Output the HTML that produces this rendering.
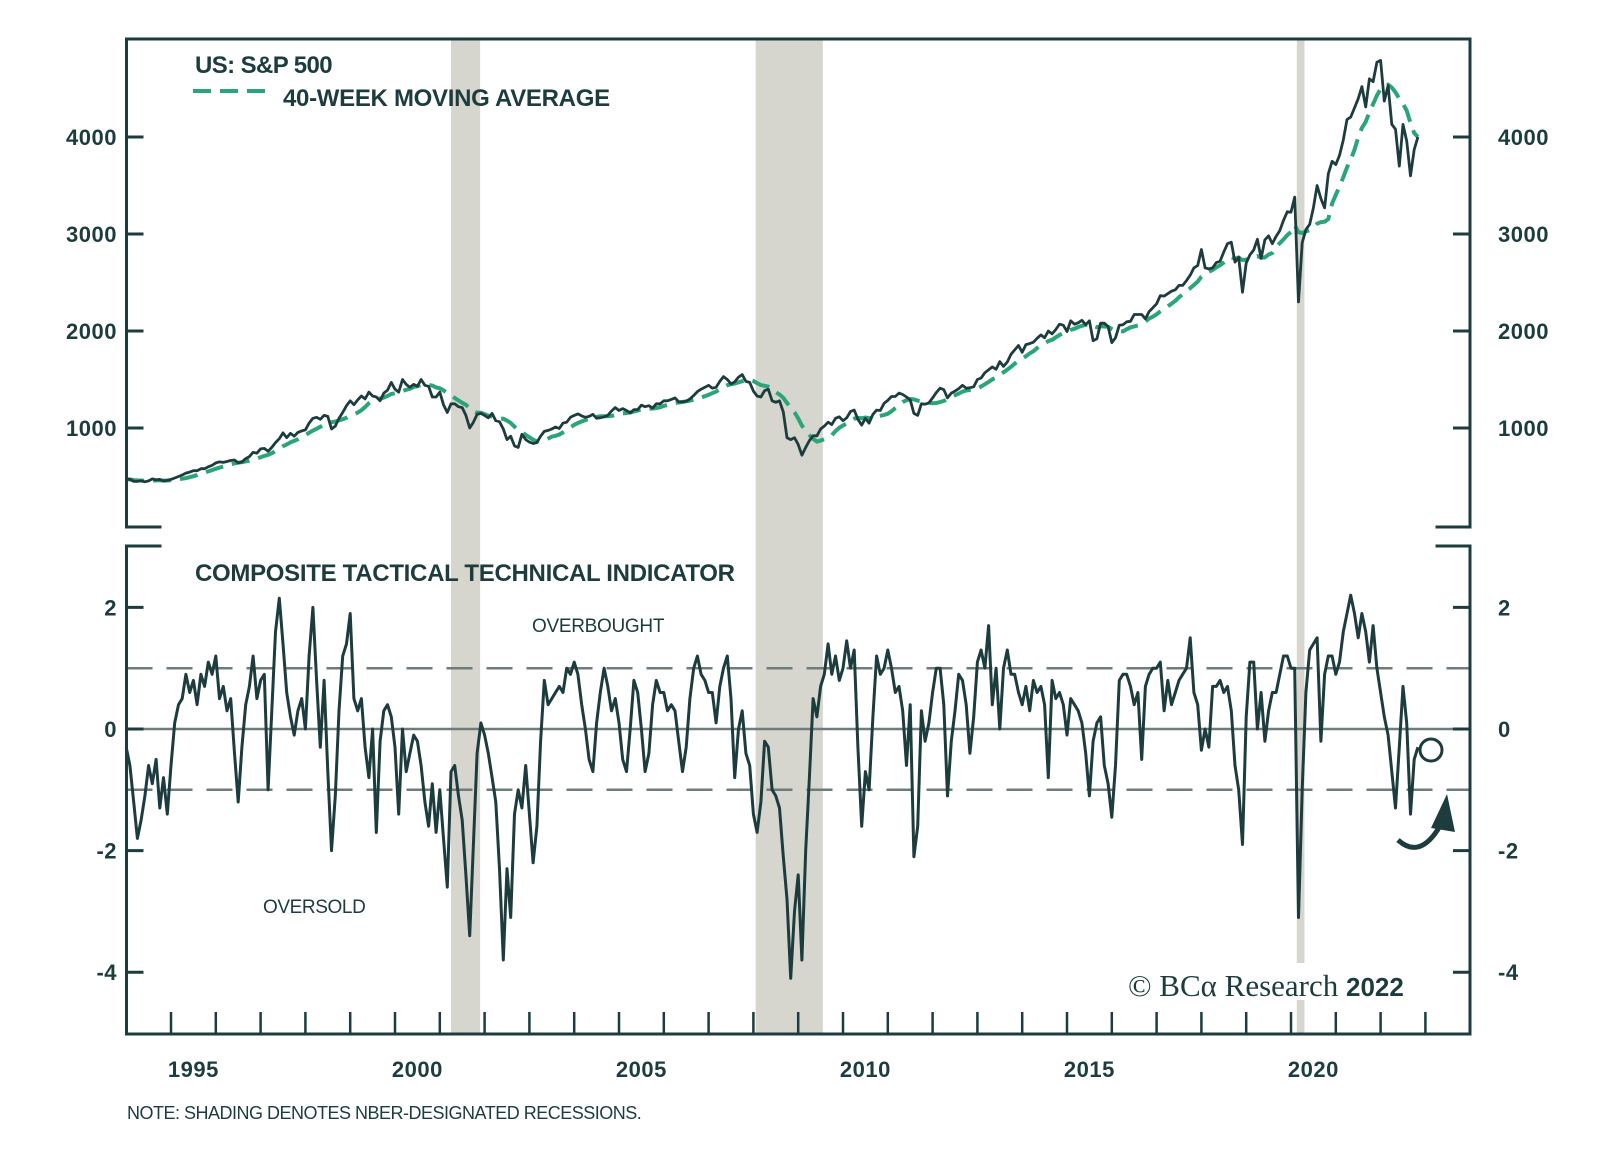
<!DOCTYPE html>
<html><head><meta charset="utf-8"><style>
body{margin:0;background:#fff;}
svg{display:block;}
.t{font-family:"Liberation Sans",sans-serif;fill:#1d3c3e;}
</style></head><body>
<svg id="chart" width="1600" height="1165" viewBox="0 0 1600 1165">
<g id="bands"></g>
<g id="grid"></g>
<g id="series"></g>
<g id="frame"></g>
<g id="labels"></g>
<text class="t" x="195" y="73" font-size="24" font-weight="bold" letter-spacing="-0.6">US: S&amp;P 500</text>
<line x1="193" y1="91" x2="272" y2="91" stroke="#2aa57a" stroke-width="4" stroke-dasharray="18 9"/>
<text class="t" x="283" y="106" font-size="24" font-weight="bold" letter-spacing="-0.3">40-WEEK MOVING AVERAGE</text>
<text class="t" x="195" y="581" font-size="24" font-weight="bold" letter-spacing="-0.3">COMPOSITE TACTICAL TECHNICAL INDICATOR</text>
<text class="t" x="532" y="632" font-size="19" letter-spacing="-0.3">OVERBOUGHT</text>
<text class="t" x="263" y="913" font-size="19" letter-spacing="-0.4">OVERSOLD</text>
<rect x="1120" y="963" width="305" height="37" fill="#fff"/>
<text x="1128" y="996" font-family="Liberation Serif,serif" font-size="31" fill="#1d3c3e">© BCα Research <tspan font-family="Liberation Sans,sans-serif" font-weight="bold" font-size="26">2022</tspan></text>
<text class="t" x="127" y="1119" font-size="18" letter-spacing="-0.5">NOTE: SHADING DENOTES NBER-DESIGNATED RECESSIONS.</text>
<circle cx="1431" cy="750" r="11" fill="none" stroke="#1d3c3e" stroke-width="3"/>
<path d="M1398 840 Q1420 860 1440 826" fill="none" stroke="#1d3c3e" stroke-width="5"/>
<polygon points="1447,794 1431,828 1455,832" fill="#1d3c3e"/>
</svg>
<script>
const startYear = 1994;
const spx = [
470,470,450,450,455,445,455,475,465,470,455,460,
470,485,500,515,535,545,560,560,580,580,600,615,
640,650,645,655,665,670,640,650,685,705,750,740,
785,790,760,800,850,890,950,900,945,915,955,970,
980,1050,1100,1110,1090,1130,1120,990,1020,1100,1160,1230,
1280,1240,1290,1330,1300,1370,1330,1320,1280,1360,1390,1470,
1400,1370,1500,1450,1420,1450,1430,1500,1440,1430,1320,1320,
1370,1240,1160,1250,1250,1220,1210,1130,1000,1060,1140,1150,
1130,1105,1150,1075,1065,990,880,915,815,800,935,880,
855,840,850,915,965,975,990,1010,995,1050,1060,1110,
1130,1145,1125,1110,1120,1140,1100,1105,1115,1130,1175,1210,
1180,1200,1180,1155,1190,1190,1235,1220,1230,1205,1250,1250,
1280,1280,1295,1310,1270,1270,1275,1300,1335,1375,1400,1420,
1440,1410,1420,1480,1530,1500,1455,1475,1525,1550,1480,1470,
1380,1330,1320,1385,1400,1280,1265,1280,1165,900,880,900,
830,720,800,870,920,920,990,1020,1060,1035,1100,1115,
1075,1105,1170,1185,1090,1030,1100,1050,1140,1185,1180,1255,
1285,1325,1325,1360,1345,1320,1290,1150,1130,1250,1245,1260,
1310,1365,1410,1395,1310,1360,1380,1405,1440,1410,1415,1425,
1500,1515,1570,1600,1630,1605,1685,1635,1680,1760,1805,1850,
1780,1860,1870,1885,1925,1960,1930,2000,1970,2015,2070,2060,
1995,2105,2070,2085,2110,2065,2105,1900,1920,2080,2080,2045,
1880,1930,2060,2065,2095,2100,2170,2170,2170,2125,2200,2240,
2280,2365,2360,2385,2410,2425,2470,2470,2520,2575,2650,2675,
2840,2650,2640,2650,2705,2720,2815,2900,2915,2710,2760,2400,
2700,2785,2835,2945,2750,2940,2980,2900,2975,3035,3140,3230,
3225,3380,2300,2910,3045,3100,3270,3500,3365,3270,3620,3750,
3715,3810,3970,4180,4205,4300,4395,4520,4310,4600,4570,4770,
4790,4370,4530,4130,4080,3700,4130,3960,3600,3870,4000
];
const indicator = [
-0.3,-0.6,-1.2,-1.8,-1.5,-1.1,-0.6,-0.9,-0.5,-1.3,-0.8,-1.4,
-0.6,0.1,0.4,0.5,0.9,0.6,0.8,0.4,0.9,0.7,1.1,0.9,
1.2,0.5,0.7,0.3,0.5,-0.4,-1.2,-0.3,0.4,0.7,1.2,0.5,
0.8,0.9,-1.0,0.3,1.6,2.15,1.4,0.6,0.2,-0.1,0.3,0.5,
0.0,1.2,2.0,0.8,-0.3,0.8,-0.7,-2.0,-1.1,0.3,1.2,1.4,
1.9,0.5,0.3,0.5,-0.3,-0.8,0.0,-1.7,-0.2,0.3,0.4,0.2,
-0.3,-1.4,0.0,-0.7,-0.4,-0.1,-0.2,-0.6,-1.2,-1.6,-0.9,-1.7,
-1.0,-1.8,-2.6,-0.7,-0.6,-1.1,-1.5,-2.4,-3.4,-1.9,-0.4,0.1,
-0.1,-0.4,-0.8,-1.2,-2.3,-3.8,-2.3,-3.1,-1.4,-1.0,-1.3,-0.6,
-1.4,-2.2,-1.6,-0.2,0.8,0.4,0.5,0.6,0.7,0.6,1.0,0.9,
1.1,0.9,0.4,0.0,-0.5,-0.7,0.1,0.6,1.0,0.7,0.3,0.5,
0.1,-0.5,-0.7,0.0,0.8,0.6,0.0,-0.7,-0.4,0.4,0.8,0.6,
0.6,0.3,0.4,0.3,-0.2,-0.7,-0.3,0.5,1.0,1.2,0.9,0.8,
0.6,0.6,0.1,0.7,1.0,1.2,0.5,-0.8,0.0,0.3,-0.4,-0.6,
-1.4,-1.7,-1.2,-0.2,-0.3,-1.0,-1.1,-1.3,-2.1,-2.8,-4.1,-3.0,
-2.4,-3.8,-2.0,-0.8,0.5,0.2,0.7,0.9,1.4,0.9,1.2,0.8,
1.0,1.45,1.0,1.3,-0.3,-1.6,-0.7,-1.0,0.2,1.2,0.9,1.0,
1.3,1.0,0.6,0.7,0.3,-0.6,0.4,-2.1,-1.6,0.3,-0.2,0.1,
0.6,1.0,1.0,0.4,-1.1,-0.2,0.3,0.9,0.8,0.4,-0.4,0.2,
1.1,1.3,1.0,1.7,0.4,1.0,0.0,1.0,1.3,0.9,0.9,0.6,
0.4,0.7,0.3,0.8,0.6,0.7,0.4,-0.8,0.8,0.5,0.6,0.4,
-0.1,0.5,0.4,0.3,0.1,-0.4,-1.1,-0.2,0.1,0.2,-0.6,-0.9,
-1.45,-0.6,0.8,0.9,0.9,0.7,0.4,0.6,-0.5,0.7,0.9,1.0,
1.0,1.1,0.3,0.8,0.4,0.6,0.8,0.9,1.0,1.5,0.6,0.4,
-0.35,0.0,-0.3,0.7,0.7,0.8,0.6,0.7,0.3,-0.6,-1.0,-1.9,
0.2,1.1,1.1,0.0,0.6,-0.2,0.3,0.6,0.6,0.9,1.2,1.2,
1.0,1.0,-3.1,-1.0,0.6,1.3,1.4,1.5,-0.2,0.9,1.2,1.2,
0.9,1.1,1.6,1.9,2.2,1.9,1.5,1.9,1.6,1.1,1.7,1.0,
0.6,0.2,-0.1,-0.7,-1.3,-0.3,0.7,0.1,-1.4,-0.5,-0.3
];
const recessions = [[2001.25,2001.9],[2008.05,2009.55],[2020.13,2020.3]];
const topTicks = [1000,2000,3000,4000];
const botTicks = [2,0,-2,-4];
const yearLabels = [1995,2000,2005,2010,2015,2020];
const refLines = [1,0,-1];

const NS='http://www.w3.org/2000/svg';
const X0=126.5, X1=1470;
const xs = t => 843 + (t-2010)*44.8;
const yTop = v => 525 - v*0.097;
const yBot = v => 729 - v*60.8;
function mk(tag,attrs,parent){const e=document.createElementNS(NS,tag);for(const k in attrs)e.setAttribute(k,attrs[k]);parent.appendChild(e);return e;}
const gB=document.getElementById('bands'),gG=document.getElementById('grid'),gS=document.getElementById('series'),gF=document.getElementById('frame'),gL=document.getElementById('labels');
const C='#1d3c3e';

recessions.forEach(r=>{
  const e=mk('rect',{x:xs(r[0]),y:39,width:xs(r[1])-xs(r[0]),height:995,fill:'#d6d6ce'},gB);
  
  
});
refLines.forEach(v=>{
  const e=mk('line',{x1:X0,x2:X1,y1:yBot(v),y2:yBot(v),stroke:'#6e7c7c','stroke-width':2.5,'stroke-dasharray':v===0?'none':'26 14'},gG);
  
  
});
const ma = spx.map((v,i)=>{const s=spx.slice(Math.max(0,i-8),i+1);return s.reduce((a,b)=>a+b,0)/s.length;});
function pathOf(arr,yf){return arr.map((v,i)=>(i?'L':'M')+xs(startYear+i/12).toFixed(1)+' '+yf(v).toFixed(1)).join(' ');}
let e=mk('path',{d:pathOf(ma,yTop),fill:'none',stroke:'#2aa57a','stroke-width':4,'stroke-dasharray':'18 9'},gS);


e=mk('path',{d:pathOf(spx,yTop),fill:'none',stroke:C,'stroke-width':2.8,'stroke-linejoin':'round'},gS);


e=mk('path',{d:pathOf(indicator,yBot),fill:'none',stroke:C,'stroke-width':3,'stroke-linejoin':'round'},gS);



const fr=[[X0,39,X1,39],[X0,39,X0,527],[X1,39,X1,527],[X0,527,160,527],[1437,527,X1,527],
[X0,546,160,546],[1437,546,X1,546],[X0,546,X0,1034],[X1,546,X1,1034],[X0,1034,X1,1034]];
fr.forEach(f=>{const l=mk('line',{x1:f[0],y1:f[1],x2:f[2],y2:f[3],stroke:C,'stroke-width':3,'stroke-linecap':'square'},gF);
 
 });
for(let y=1995;y<=2023;y++){const l=mk('line',{x1:xs(y),x2:xs(y),y1:1034,y2:1012,stroke:C,'stroke-width':2.5},gF);
 
 }
function yt(v,yf,fmt){
 const y=yf(v);
 [[X0,X0+17],[X1-17,X1]].forEach(p=>{const l=mk('line',{x1:p[0],x2:p[1],y1:y,y2:y,stroke:C,'stroke-width':3},gF);
  
  });
 const a=mk('text',{x:117,y:y+8,'text-anchor':'end','font-size':22,'font-weight':'bold','letter-spacing':'0.5',class:'t'},gL);a.textContent=fmt;
 
 
 const b=mk('text',{x:1498,y:y+8,'font-size':22,'font-weight':'bold','letter-spacing':'0.5',class:'t'},gL);b.textContent=fmt;
 
 
}
topTicks.forEach(v=>yt(v,yTop,String(v)));
botTicks.forEach(v=>yt(v,yBot,String(v)));
yearLabels.forEach(y=>{const t=mk('text',{x:xs(y+0.5),y:1077,'text-anchor':'middle','font-size':22,'font-weight':'bold','letter-spacing':'0.5',class:'t'},gL);t.textContent=y;
 
 });
</script>
</body></html>
